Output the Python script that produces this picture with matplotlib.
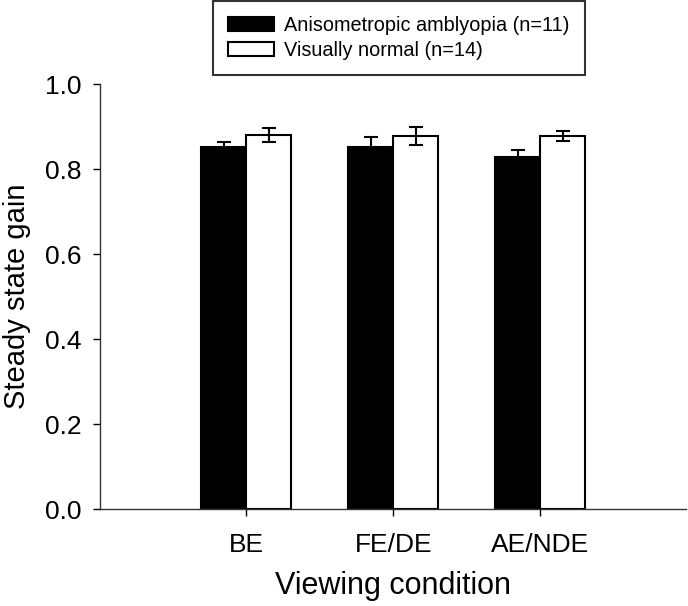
import numpy as np
import matplotlib
matplotlib.use("Agg")
import matplotlib.pyplot as plt

plt.rcParams['font.family'] = ['Liberation Sans', 'DejaVu Sans']

conditions = ["BE", "FE/DE", "AE/NDE"]
amblyopia_gain = [0.852, 0.852, 0.828]
amblyopia_err = [0.012, 0.024, 0.017]
normal_gain = [0.880, 0.878, 0.878]
normal_err = [0.016, 0.021, 0.012]
y_ticks = [0.0, 0.2, 0.4, 0.6, 0.8, 1.0]

fig = plt.figure(figsize=(6.88, 6.06), dpi=100)
ax = fig.add_axes([0.1453, 0.160, 0.852, 0.701])

x = np.arange(1, len(conditions) + 1)
width = 0.306

err_kw = dict(ecolor="black", elinewidth=1.5, capsize=5, capthick=1.5)
b1 = ax.bar(x - width / 2, amblyopia_gain, width, yerr=amblyopia_err,
            color="black", edgecolor="black", linewidth=1.5,
            error_kw=err_kw, label="Anisometropic amblyopia (n=11)")
b2 = ax.bar(x + width / 2, normal_gain, width, yerr=normal_err,
            color="white", edgecolor="black", linewidth=1.5,
            error_kw=err_kw, label="Visually normal (n=14)")

ax.set_xlim(0.007, 3.99)
ax.set_ylim(0, 1.0)
ax.set_xticks(x)
ax.set_xticklabels(conditions)
ax.set_yticks(y_ticks)
ax.set_yticklabels([f"{t:.1f}" for t in y_ticks])
ax.tick_params(axis="both", direction="out", length=5, width=1,
               labelsize=19)
ax.tick_params(axis="y", pad=8)
ax.tick_params(axis="x", pad=12)

for side in ["top", "right"]:
    ax.spines[side].set_visible(False)
for side in ["left", "bottom"]:
    ax.spines[side].set_linewidth(1)
    ax.spines[side].set_color("#333333")

ax.set_xlabel("Viewing condition", fontsize=22, labelpad=10)
ax.set_ylabel("Steady state gain", fontsize=21, labelpad=10)

leg = fig.legend(handles=[b1, b2], loc="upper left",
                 bbox_to_anchor=(213 / 688, 0.998), fontsize=14.3,
                 frameon=True, fancybox=False, borderpad=0.75,
                 handlelength=2.3, handleheight=0.75, labelspacing=0.3,
                 handletextpad=0.55, borderaxespad=0)
leg.get_frame().set_edgecolor("black")
leg.get_frame().set_linewidth(1.5)

fig.savefig("out.png", dpi=100)
